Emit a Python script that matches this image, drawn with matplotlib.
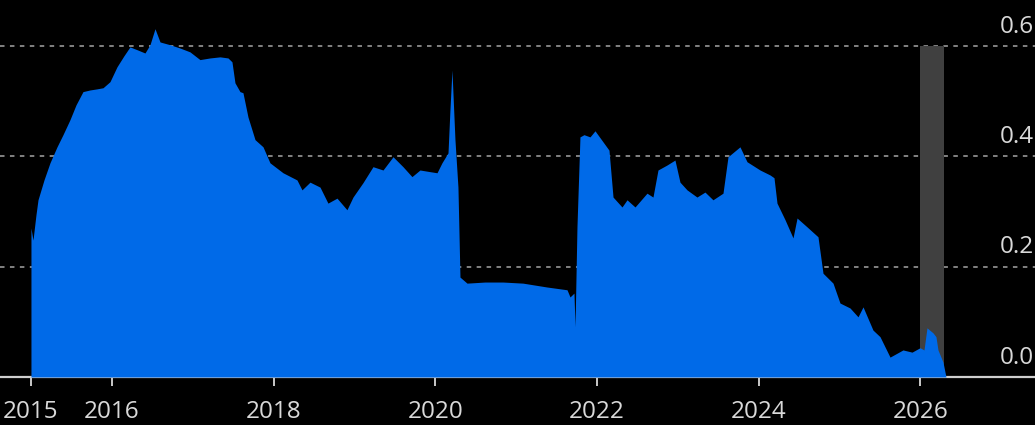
import matplotlib
matplotlib.use("Agg")
import matplotlib.pyplot as plt
import matplotlib.transforms as mtransforms

# decimal-year dates and values
dates = [2015.000, 2015.025, 2015.062, 2015.087, 2015.161, 2015.235, 2015.322, 2015.396,
         2015.482, 2015.557, 2015.643, 2015.730, 2015.816, 2015.891, 2015.977, 2016.064,
         2016.150, 2016.224, 2016.311, 2016.410, 2016.472, 2016.534, 2016.596, 2016.719,
         2016.843, 2016.967, 2017.090, 2017.214, 2017.338, 2017.437, 2017.486, 2017.523,
         2017.585, 2017.622, 2017.684, 2017.771, 2017.870, 2017.956, 2018.117, 2018.290,
         2018.352, 2018.451, 2018.575, 2018.673, 2018.785, 2018.908, 2018.983, 2019.106,
         2019.230, 2019.354, 2019.478, 2019.601, 2019.712, 2019.811, 2019.935, 2020.022,
         2020.083, 2020.158, 2020.182, 2020.207, 2020.244, 2020.281, 2020.306, 2020.393,
         2020.615, 2020.838, 2021.085, 2021.382, 2021.630, 2021.667, 2021.716, 2021.729,
         2021.753, 2021.790, 2021.840, 2021.914, 2021.976, 2022.075, 2022.149, 2022.199,
         2022.310, 2022.372, 2022.471, 2022.619, 2022.693, 2022.755, 2022.866, 2022.965,
         2023.027, 2023.114, 2023.237, 2023.336, 2023.435, 2023.559, 2023.621, 2023.769,
         2023.856, 2024.017, 2024.141, 2024.190, 2024.227, 2024.326, 2024.425, 2024.475,
         2024.598, 2024.734, 2024.796, 2024.920, 2025.006, 2025.130, 2025.229, 2025.291,
         2025.414, 2025.501, 2025.625, 2025.785, 2025.897, 2025.996, 2026.045, 2026.082,
         2026.156, 2026.193, 2026.218, 2026.280, 2026.317]
values = [0.270, 0.248, 0.294, 0.321, 0.357, 0.388, 0.417, 0.439,
          0.466, 0.493, 0.517, 0.520, 0.522, 0.524, 0.535, 0.562,
          0.582, 0.598, 0.593, 0.587, 0.602, 0.631, 0.607, 0.602,
          0.596, 0.589, 0.575, 0.578, 0.580, 0.578, 0.571, 0.533,
          0.517, 0.515, 0.471, 0.430, 0.417, 0.388, 0.370, 0.357,
          0.339, 0.353, 0.344, 0.315, 0.324, 0.303, 0.326, 0.352,
          0.381, 0.375, 0.399, 0.381, 0.363, 0.375, 0.372, 0.370,
          0.388, 0.406, 0.484, 0.556, 0.430, 0.344, 0.181, 0.170,
          0.172, 0.172, 0.170, 0.163, 0.158, 0.145, 0.152, 0.091,
          0.272, 0.435, 0.439, 0.435, 0.446, 0.426, 0.411, 0.326,
          0.308, 0.321, 0.308, 0.333, 0.326, 0.375, 0.384, 0.393,
          0.353, 0.339, 0.326, 0.335, 0.321, 0.333, 0.399, 0.417,
          0.390, 0.375, 0.366, 0.361, 0.315, 0.285, 0.252, 0.288,
          0.272, 0.254, 0.188, 0.170, 0.134, 0.125, 0.109, 0.127,
          0.085, 0.073, 0.036, 0.049, 0.045, 0.053, 0.049, 0.089,
          0.080, 0.073, 0.049, 0.027, 0.000]

x_ticks = [2015, 2016, 2018, 2020, 2022, 2024, 2026]
y_ticks = [0.0, 0.2, 0.4, 0.6]
y_labels = ["0.0", "0.2", "0.4", "0.6"]
band = (2026.0, 2026.297)

BG = "black"
FG = "#d9d9d9"
BLUE = "#006ae8"

plt.rcParams["font.family"] = ["Open Sans", "DejaVu Sans"]

fig = plt.figure(figsize=(10.35, 4.25), dpi=100, facecolor=BG)
ax = fig.add_axes([0.0, 0.113, 1.0, 0.887], facecolor=BG)

ax.set_xlim(2014.617, 2027.418)
ax.set_ylim(0, 0.683)

# shaded period
ax.fill_between(band, 0, 0.6, color="#404040", lw=0, zorder=2)
ax.fill_between(dates, 0, values, color=BLUE, lw=0, zorder=3)

for v in y_ticks[1:]:
    ax.axhline(v, color="#8c8c8c", lw=1.3, ls=(0, (2.5, 3)), zorder=1)

trans = mtransforms.blended_transform_factory(ax.transAxes, ax.transData)
for v, lab in zip(y_ticks, y_labels):
    ax.annotate(lab, xy=(0.999, v), xycoords=trans, xytext=(0, 9.5),
                textcoords="offset points", ha="right", va="baseline",
                color=FG, fontsize=17.5)

for s in ["top", "right", "left"]:
    ax.spines[s].set_visible(False)
ax.spines["bottom"].set_color("#cfcfcf")
ax.spines["bottom"].set_linewidth(1.6)
ax.spines["bottom"].set_zorder(2.5)

ax.set_yticks([])
ax.set_xticks(x_ticks)
ax.set_xticklabels([str(t) for t in x_ticks])
ax.tick_params(axis="x", colors=FG, length=6.5, width=1.3, pad=10, labelsize=17.5)

fig.savefig("out.png", dpi=100, facecolor=BG)
